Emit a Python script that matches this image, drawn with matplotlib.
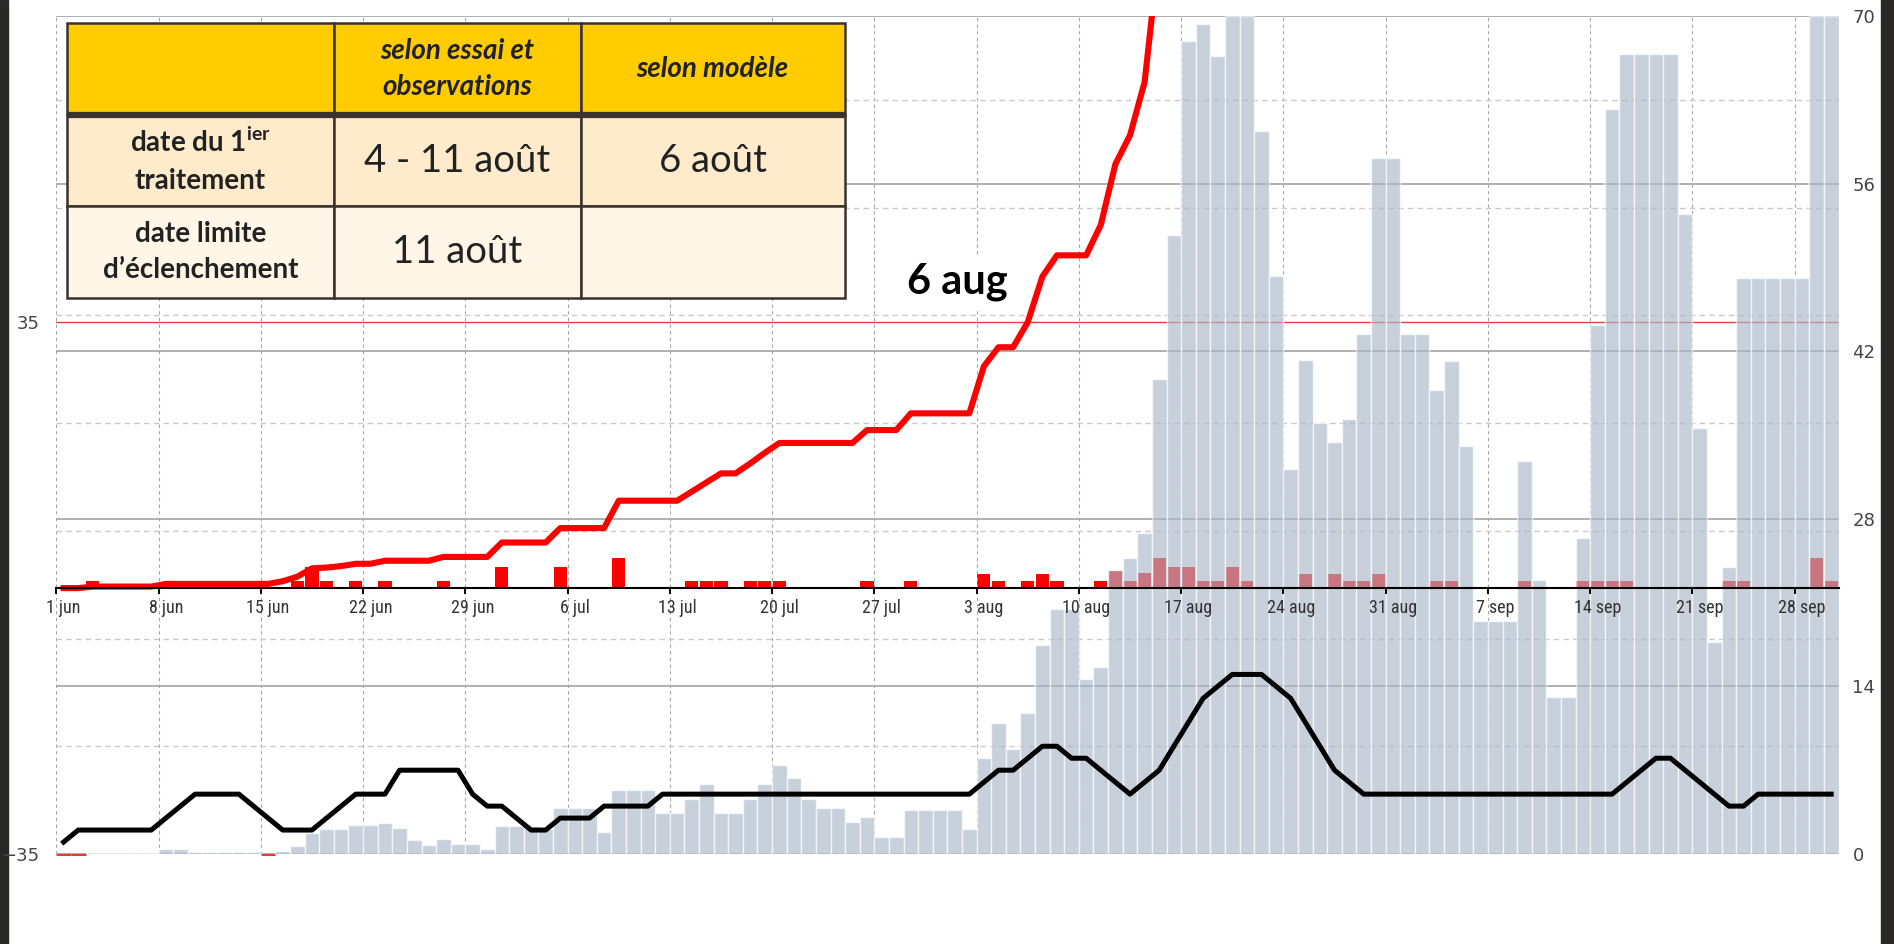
import numpy as np
import matplotlib
matplotlib.use('Agg')
import matplotlib.pyplot as plt
from matplotlib.patches import Rectangle

plt.rcParams['font.family'] = ['Lato', 'DejaVu Sans']
plt.rcParams['mathtext.fontset'] = 'custom'
plt.rcParams['mathtext.rm'] = 'Lato'
plt.rcParams['mathtext.bf'] = 'Lato:bold'

# one value per day, 1 jun .. 30 sep
# grey bars + black line -> right axis (0..70)
grey_bars = [
    0, 0, 0.12, 0.12, 0.12, 0.12, 0.12, 0.4, 0.4, 0.15,
    0.15, 0.15, 0.15, 0.15, 0, 0.28, 0.67, 1.73, 2.06, 2.06,
    2.45, 2.45, 2.56, 2.17, 1.17, 0.75, 1.23, 0.84, 0.84, 0.39,
    2.34, 2.34, 2.34, 2.06, 3.87, 3.87, 3.87, 1.86, 5.35, 5.35,
    5.35, 3.4, 3.4, 4.6, 5.85, 3.45, 3.45, 4.6, 5.85, 7.43,
    6.32, 4.6, 3.87, 3.87, 2.7, 3.12, 1.45, 1.45, 3.68, 3.68,
    3.68, 3.68, 2.06, 8.0, 10.97, 8.75, 11.75, 17.5, 20.5, 20.5,
    14.6, 15.65, 23.7, 24.7, 26.8, 39.7, 51.7, 67.9, 69.3, 66.7,
    70, 70, 60.4, 48.3, 32.2, 41.3, 36.0, 34.4, 36.3, 43.4,
    58.1, 58.1, 43.4, 43.4, 38.8, 41.2, 34.1, 19.5, 19.5, 19.5,
    32.8, 22.9, 13.1, 13.1, 26.4, 44.2, 62.2, 66.8, 66.8, 66.8,
    66.8, 53.5, 35.6, 17.7, 24.0, 48.1, 48.1, 48.1, 48.1, 48.1,
    70, 70,
]
black_line = [
    1, 2, 2, 2, 2, 2, 2, 3, 4, 5,
    5, 5, 5, 4, 3, 2, 2, 2, 3, 4,
    5, 5, 5, 7, 7, 7, 7, 7, 5, 4,
    4, 3, 2, 2, 3, 3, 3, 4, 4, 4,
    4, 5, 5, 5, 5, 5, 5, 5, 5, 5,
    5, 5, 5, 5, 5, 5, 5, 5, 5, 5,
    5, 5, 5, 6, 7, 7, 8, 9, 9, 8,
    8, 7, 6, 5, 6, 7, 9, 11, 13, 14,
    15, 15, 15, 14, 13, 11, 9, 7, 6, 5,
    5, 5, 5, 5, 5, 5, 5, 5, 5, 5,
    5, 5, 5, 5, 5, 5, 5, 6, 7, 8,
    8, 7, 6, 5, 4, 4, 5, 5, 5, 5,
    5, 5,
]
# red bars + red cumulative line -> left axis (-35..)
red_bars = [
    0, 0, 0.9, 0, 0, 0, 0, 0, 0, 0,
    0, 0, 0, 0, 0, 0, 0.9, 2.8, 0.9, 0,
    0.9, 0, 0.9, 0, 0, 0, 0.9, 0, 0, 0,
    2.8, 0, 0, 0, 2.8, 0, 0, 0, 3.9, 0,
    0, 0, 0, 0.9, 0.9, 0.9, 0, 0.9, 0.9, 0.9,
    0, 0, 0, 0, 0, 0.9, 0, 0, 0.9, 0,
    0, 0, 0, 1.9, 0.9, 0, 0.9, 1.9, 0.9, 0,
    0, 0.9, 2.2, 0.9, 2.0, 3.9, 2.8, 2.8, 0.9, 0.9,
    2.8, 0.9, 0, 0, 0, 1.9, 0, 1.9, 0.9, 0.9,
    1.9, 0, 0, 0, 0.9, 0.9, 0, 0, 0, 0,
    0.9, 0, 0, 0, 0.9, 0.9, 0.9, 0.9, 0, 0,
    0, 0, 0, 0, 0.9, 0.9, 0, 0, 0, 0,
    3.9, 0.9,
]
red_cumul = [
    0, 0, 0.2, 0.2, 0.2, 0.2, 0.2, 0.55, 0.55, 0.55,
    0.55, 0.55, 0.55, 0.55, 0.55, 0.9, 1.5, 2.6, 2.7, 2.9,
    3.2, 3.2, 3.6, 3.6, 3.6, 3.6, 4.1, 4.1, 4.1, 4.1,
    6.0, 6.0, 6.0, 6.0, 7.9, 7.9, 7.9, 7.9, 11.5, 11.5,
    11.5, 11.5, 11.5, 12.7, 13.9, 15.1, 15.1, 16.4, 17.8, 19.1,
    19.1, 19.1, 19.1, 19.1, 19.1, 20.8, 20.8, 20.8, 23.0, 23.0,
    23.0, 23.0, 23.0, 29.2, 31.7, 31.7, 35.0, 41.0, 43.8, 43.8,
    43.8, 47.8, 55.8, 59.6, 66.6, 84,
]
zero_days = [0, 1, 14]
threshold = 35
crossing_day = 66  # 6 aug

week_days = list(range(0, 122, 7))
week_labels = ['1 jun', '8 jun', '15 jun', '22 jun', '29 jun', '6 jul', '13 jul',
               '20 jul', '27 jul', '3 aug', '10 aug', '17 aug', '24 aug', '31 aug',
               '7 sep', '14 sep', '21 sep', '28 sep']
right_ticks = [0, 14, 28, 42, 56, 70]
right_minor = [9, 18, 27, 36, 45, 54, 63]
left_ticks = [-35, 35]

table_header = ['', 'selon essai et\nobservations', 'selon modèle']
table_rows = [
    ['date du 1$^{\\mathbf{ier}}$\ntraitement', '4 - 11 août', '6 août'],
    ['date limite\nd’éclenchement', '11 août', ''],
]
col_widths = [266.3, 246.8, 264.5]
row_fills = ['#ffcc00', '#fdebcb', '#fff6e8']

days = np.arange(len(grey_bars))
W, H = 1894, 944
fig = plt.figure(figsize=(W / 100, H / 100), dpi=100)
pos = [56.3 / W, 1 - 854 / H, (1838.5 - 56.3) / W, (854 - 16) / H]

# bottom layer: left axis, red bars + threshold, vertical grid
ax1 = fig.add_axes(pos)
ax1.set_zorder(1)
ax1.set_xlim(0, len(days))
ax1.set_ylim(-35, 75.3)
ax1.axhline(threshold, color='#e8413c', lw=1.0)
ax1.bar(days + 0.05, red_bars, width=0.9, align='edge', color='#ff0000', linewidth=0)
zd = np.array(zero_days)
ax1.hlines(np.full(len(zd), -35), zd, zd + 1, color='#e53935', lw=2.2, clip_on=False)

# middle layer: right axis, grey bars, black line
ax_r = ax1.twinx()
ax_r.set_zorder(2)
ax_r.set_ylim(0, 70)
ax_r.set_axisbelow(True)
ax_r.bar(days, grey_bars, width=1.0, align='edge', color='#aab7c9', alpha=0.65,
         edgecolor='white', linewidth=1.0)
ax_r.plot(days + 0.5, black_line, color='black', lw=3.6)
ax_r.set_yticks(right_ticks)
ax_r.set_yticks(right_minor, minor=True)
ax_r.grid(True, which='major', axis='y', color='#a9a9a9', lw=1.3)
ax_r.grid(True, which='minor', axis='y', color='#cacaca', lw=1.0, ls=(0, (4, 3)))
ax_r.tick_params(axis='y', which='both', length=0)
ax_r.tick_params(axis='y', which='major', pad=10, labelsize=13, labelcolor='#444444',
                 labelfontfamily='DejaVu Sans')

# top layer: left axis again, cumulative red line and the x axis at 0
ax3 = fig.add_axes(pos, sharex=ax1, sharey=ax1)
ax3.set_zorder(3)
ax3.patch.set_visible(False)
ax3.plot(days[:len(red_cumul)] + 0.5, red_cumul, color='#ff0000', lw=4.4)
ax3.annotate('6 aug', xy=(crossing_day + 0.5, threshold), xytext=(-51, 21),
             textcoords='offset points', ha='center', va='baseline',
             fontsize=30, fontweight='bold', color='black',
             bbox=dict(facecolor='white', edgecolor='none', pad=5))

ax3.set_xticks(week_days)
ax3.set_xticks(np.array(week_days) + 0.5, week_labels, minor=True)
ax3.tick_params(axis='x', which='major', direction='out', length=4, width=1.4,
                color='black', labelbottom=False)
ax3.tick_params(axis='x', which='minor', length=0, pad=8, labelsize=13,
                labelcolor='#333333',
                labelfontfamily=['Liberation Sans Narrow', 'Roboto Condensed', 'Lato'])
ax3.set_yticks(left_ticks)
ax3.tick_params(axis='y', which='both', length=0, pad=12, labelsize=13,
                labelcolor='#444444', labelfontfamily='DejaVu Sans')

for sp in ['top', 'left', 'right']:
    ax3.spines[sp].set_visible(False)
ax3.spines['bottom'].set_position(('data', 0))
ax3.spines['bottom'].set_linewidth(1.5)
ax3.spines['bottom'].set_color('black')

ax1.tick_params(axis='both', which='both', bottom=False, left=False,
                labelbottom=False, labelleft=False)
ax1.xaxis.grid(True, which='major', color='#a5a5a5', lw=0.8, ls=(0, (3, 3)))
for a in (ax1, ax_r):
    for sp in a.spines.values():
        sp.set_visible(False)

# summary table in the top-left corner
tax = fig.add_axes([67.4 / W, 1 - 297.7 / H, 777.6 / W, 274.4 / H])
tax.set_zorder(10)
tax.set_axis_off()
tab = tax.table(cellText=[table_header] + table_rows,
                colWidths=list(np.array(col_widths) / sum(col_widths)),
                cellLoc='center', bbox=[0, 0, 1, 1])
tab.auto_set_font_size(False)
for (r, c), cell in tab.get_celld().items():
    cell.set_facecolor(row_fills[r])
    cell.set_edgecolor('#3a322d')
    cell.set_linewidth(1.8)
    t = cell.get_text()
    t.set_color('#222222')
    t.set_linespacing(1.5)
    if r == 0:
        t.set_fontsize(20)
        t.set_fontweight('bold')
        t.set_fontstyle('italic')
    elif c == 0:
        t.set_fontsize(20)
        t.set_fontweight('bold')
    else:
        t.set_fontsize(27.5)
tax.axhline(2 / 3, color='#3a322d', lw=4.5, zorder=5)

# dark frame strips at the sides of the slide
fig.add_artist(Rectangle((0, 0), 8 / W, 1, transform=fig.transFigure, color='#2b2724'))
fig.add_artist(Rectangle((1881 / W, 0), 13 / W, 1, transform=fig.transFigure, color='#2b2724'))

fig.savefig('out.png', dpi=100)
